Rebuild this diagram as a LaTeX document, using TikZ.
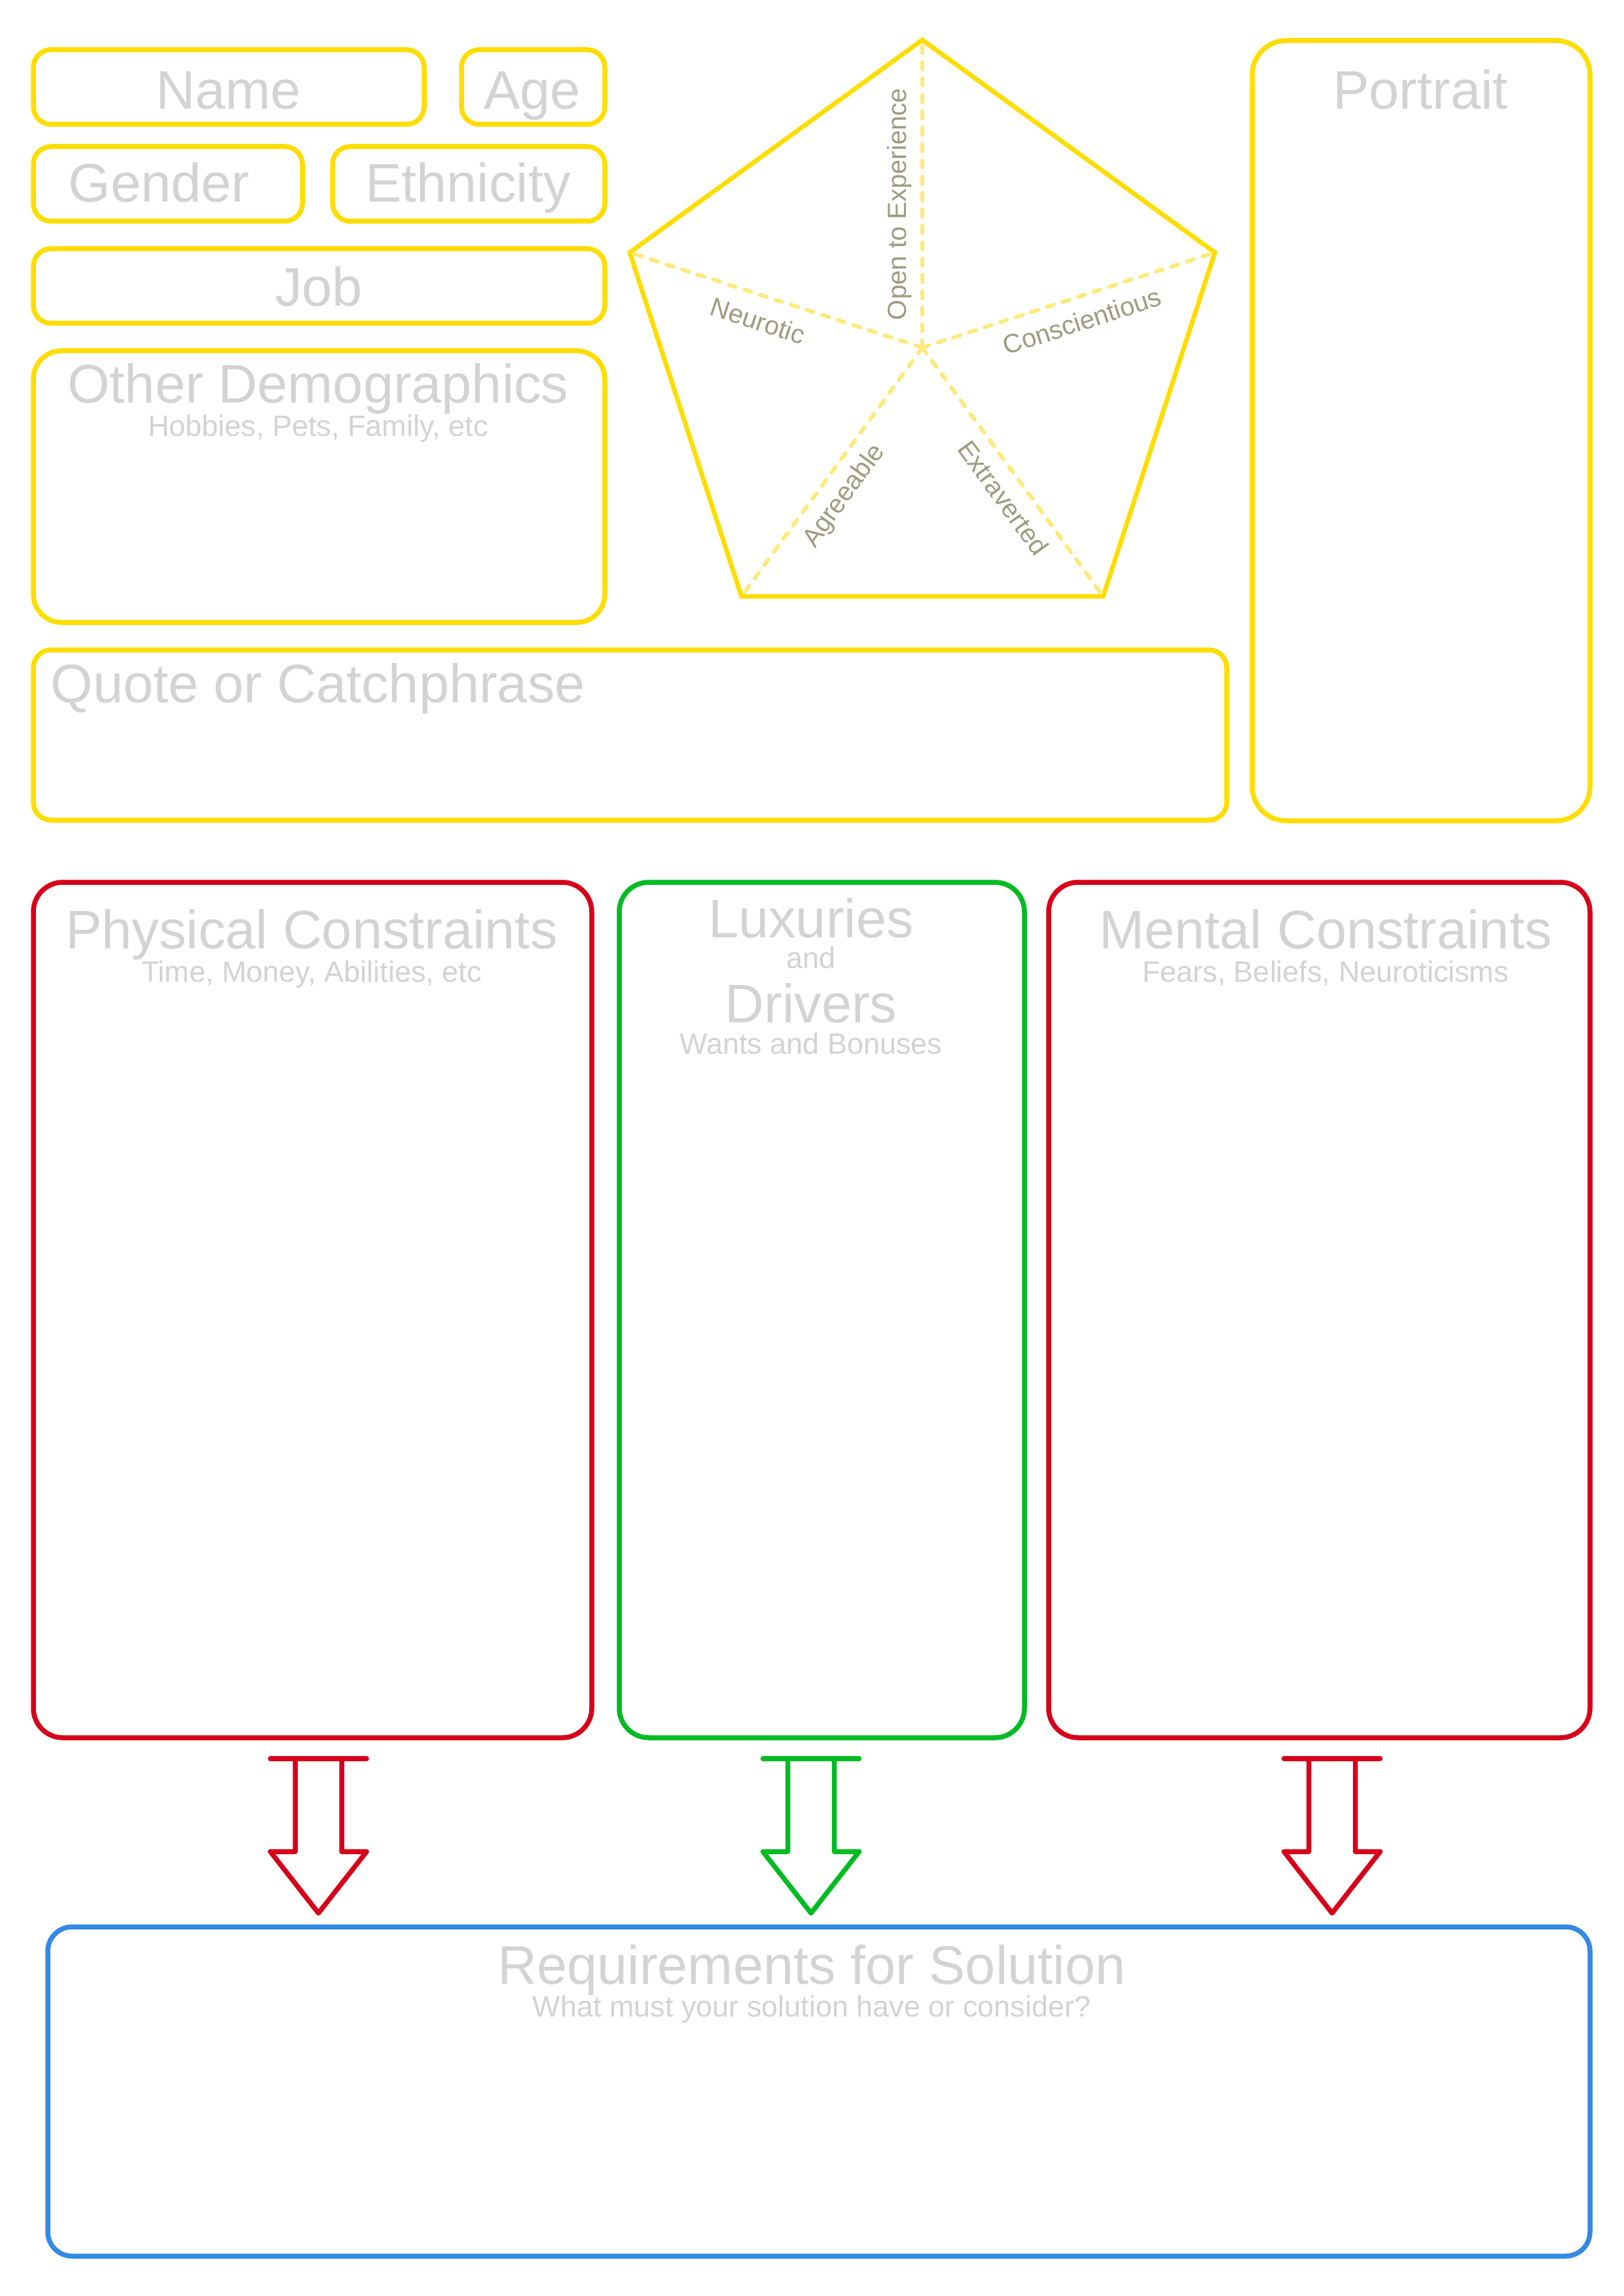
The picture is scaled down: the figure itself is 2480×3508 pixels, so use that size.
\documentclass[tikz,border=0pt]{standalone}
\usepackage{fontspec}
\setmainfont{Liberation Sans}
\usetikzlibrary{positioning,fit,shapes.geometric}

\definecolor{persyellow}{RGB}{255,221,0}
\definecolor{spokeyellow}{RGB}{255,233,122}
\definecolor{consred}{RGB}{215,0,26}
\definecolor{luxgreen}{RGB}{0,187,34}
\definecolor{reqblue}{RGB}{50,138,228}
\definecolor{hintgrey}{RGB}{211,211,211}
\definecolor{traitgrey}{RGB}{158,155,128}

\tikzset{
  card/.style={draw=#1, line width=0.75mm, rounded corners=2.7mm, inner sep=0pt, outer sep=0pt},
  title/.style={font=\fontsize{23.6}{28}\selectfont, text=hintgrey, inner sep=0pt, anchor=base},
  hint/.style={font=\fontsize{12.8}{15}\selectfont, text=hintgrey, inner sep=0pt, anchor=base},
  spoke/.style={draw=spokeyellow, line width=0.6mm, line cap=round, dash pattern=on 1.1mm off 1.4mm},
  trait/.style={font=\fontsize{11.4}{13}\selectfont, text=traitgrey, sloped, inner sep=#1, outer sep=0pt},
  fatarrow/.style={draw=#1, line width=0.75mm, line join=round, line cap=round}
}

\newcommand{\openarrow}[2]{%
  % #1 colour, #2 centre x
  \begin{scope}[shift={(#2,2687)}]
    \draw[fatarrow=#1] (-73.5,0) -- (73.5,0);
    \draw[fatarrow=#1] (-35.5,0) -- (-35.5,142) -- (-73.5,142) -- (0,236)
      -- (73.5,142) -- (35.5,142) -- (35.5,0);
  \end{scope}%
}

\begin{document}
\begin{tikzpicture}[x=0.1mm, y=-0.1mm]
\useasboundingbox (0,0) rectangle (2480,3508);

% ===== PERSONA DETAILS =====
\node[card=persyellow, fit={(51,76) (648,190)}] (name) {};
\node[card=persyellow, fit={(705,76) (924,190)}] (age) {};
\node[card=persyellow, fit={(51,224) (462,338)}] (gender) {};
\node[card=persyellow, fit={(508,224) (924,338)}] (ethnic) {};
\node[card=persyellow, fit={(51,380) (924,494)}] (job) {};
\node[card=persyellow, rounded corners=4.3mm, fit={(51,536) (924,951)}] (demog) {};
\node[card=persyellow, fit={(51,993) (1874,1253)}] (quote) {};
\node[card=persyellow, rounded corners=5.2mm, fit={(1913,62) (2429,1254)}] (portrait) {};

\node[title] (nametxt) at (349,167) {Name};
\node[title] (agetxt) at (813,167) {Age};
\node[title] (gendertxt) at (243,309) {Gender};
\node[title] (ethnictxt) at (715,309) {Ethnicity};
\node[title] (jobtxt) at (487,468) {Job};
\node[title] (demogtxt) at (486,616) {Other Demographics};
\node[hint] (demoghint) at (486,667) {Hobbies, Pets, Family, etc};
\node[title, anchor=base west] (quotetxt) at (77,1073) {Quote or Catchphrase};
\node[title] (portraittxt) at (2170,167) {Portrait};

% ===== BIG FIVE =====
\node[regular polygon, regular polygon sides=5, minimum size=94mm, draw=persyellow,
  line width=0.7mm, inner sep=0pt, outer sep=0pt] (big5) at (1409,531) {};
\draw[spoke] (big5.center) -- node[trait=1.6mm, pos=0.466, anchor=south] (open) {Open to Experience} (big5.corner 1);
\draw[spoke] (big5.center) -- node[trait=2.4mm, pos=0.535, anchor=north] (neuro) {Neurotic} (big5.corner 2);
\draw[spoke] (big5.center) -- node[trait=1.9mm, pos=0.54, anchor=north] (agree) {Agreeable} (big5.corner 3);
\draw[spoke] (big5.center) -- node[trait=2mm, pos=0.55, anchor=north] (extra) {Extraverted} (big5.corner 4);
\draw[spoke] (big5.center) -- node[trait=2.2mm, pos=0.52, anchor=north] (consc) {Conscientious} (big5.corner 5);

% ===== CONSTRAINTS & DRIVERS =====
\node[card=consred, rounded corners=4.5mm, fit={(51,1348) (904,2655)}] (physical) {};
\node[card=luxgreen, rounded corners=4.5mm, fit={(946,1348) (1565,2655)}] (luxury) {};
\node[card=consred, rounded corners=4.5mm, fit={(1602,1348) (2429,2655)}] (mental) {};

\node[title] (physicaltxt) at (476,1449) {Physical Constraints};
\node[hint] (physicalhint) at (476,1500) {Time, Money, Abilities, etc};
\node[title] (luxurytxt) at (1239,1432) {Luxuries};
\node[hint] (andtxt) at (1239,1479) {and};
\node[title] (drivertxt) at (1239,1562) {Drivers};
\node[hint] (luxuryhint) at (1239,1610) {Wants and Bonuses};
\node[title] (mentaltxt) at (2025,1449) {Mental Constraints};
\node[hint] (mentalhint) at (2025,1500) {Fears, Beliefs, Neuroticisms};

% ===== ARROWS =====
\openarrow{consred}{486.5}
\openarrow{luxgreen}{1239}
\openarrow{consred}{2035}

% ===== REQUIREMENTS =====
\node[card=reqblue, rounded corners=3.7mm, fit={(73,2944) (2429,3447)}] (require) {};
\node[title] (requiretxt) at (1240,3031) {Requirements for Solution};
\node[hint] (requirehint) at (1240,3081) {What must your solution have or consider?};

\end{tikzpicture}
\end{document}
